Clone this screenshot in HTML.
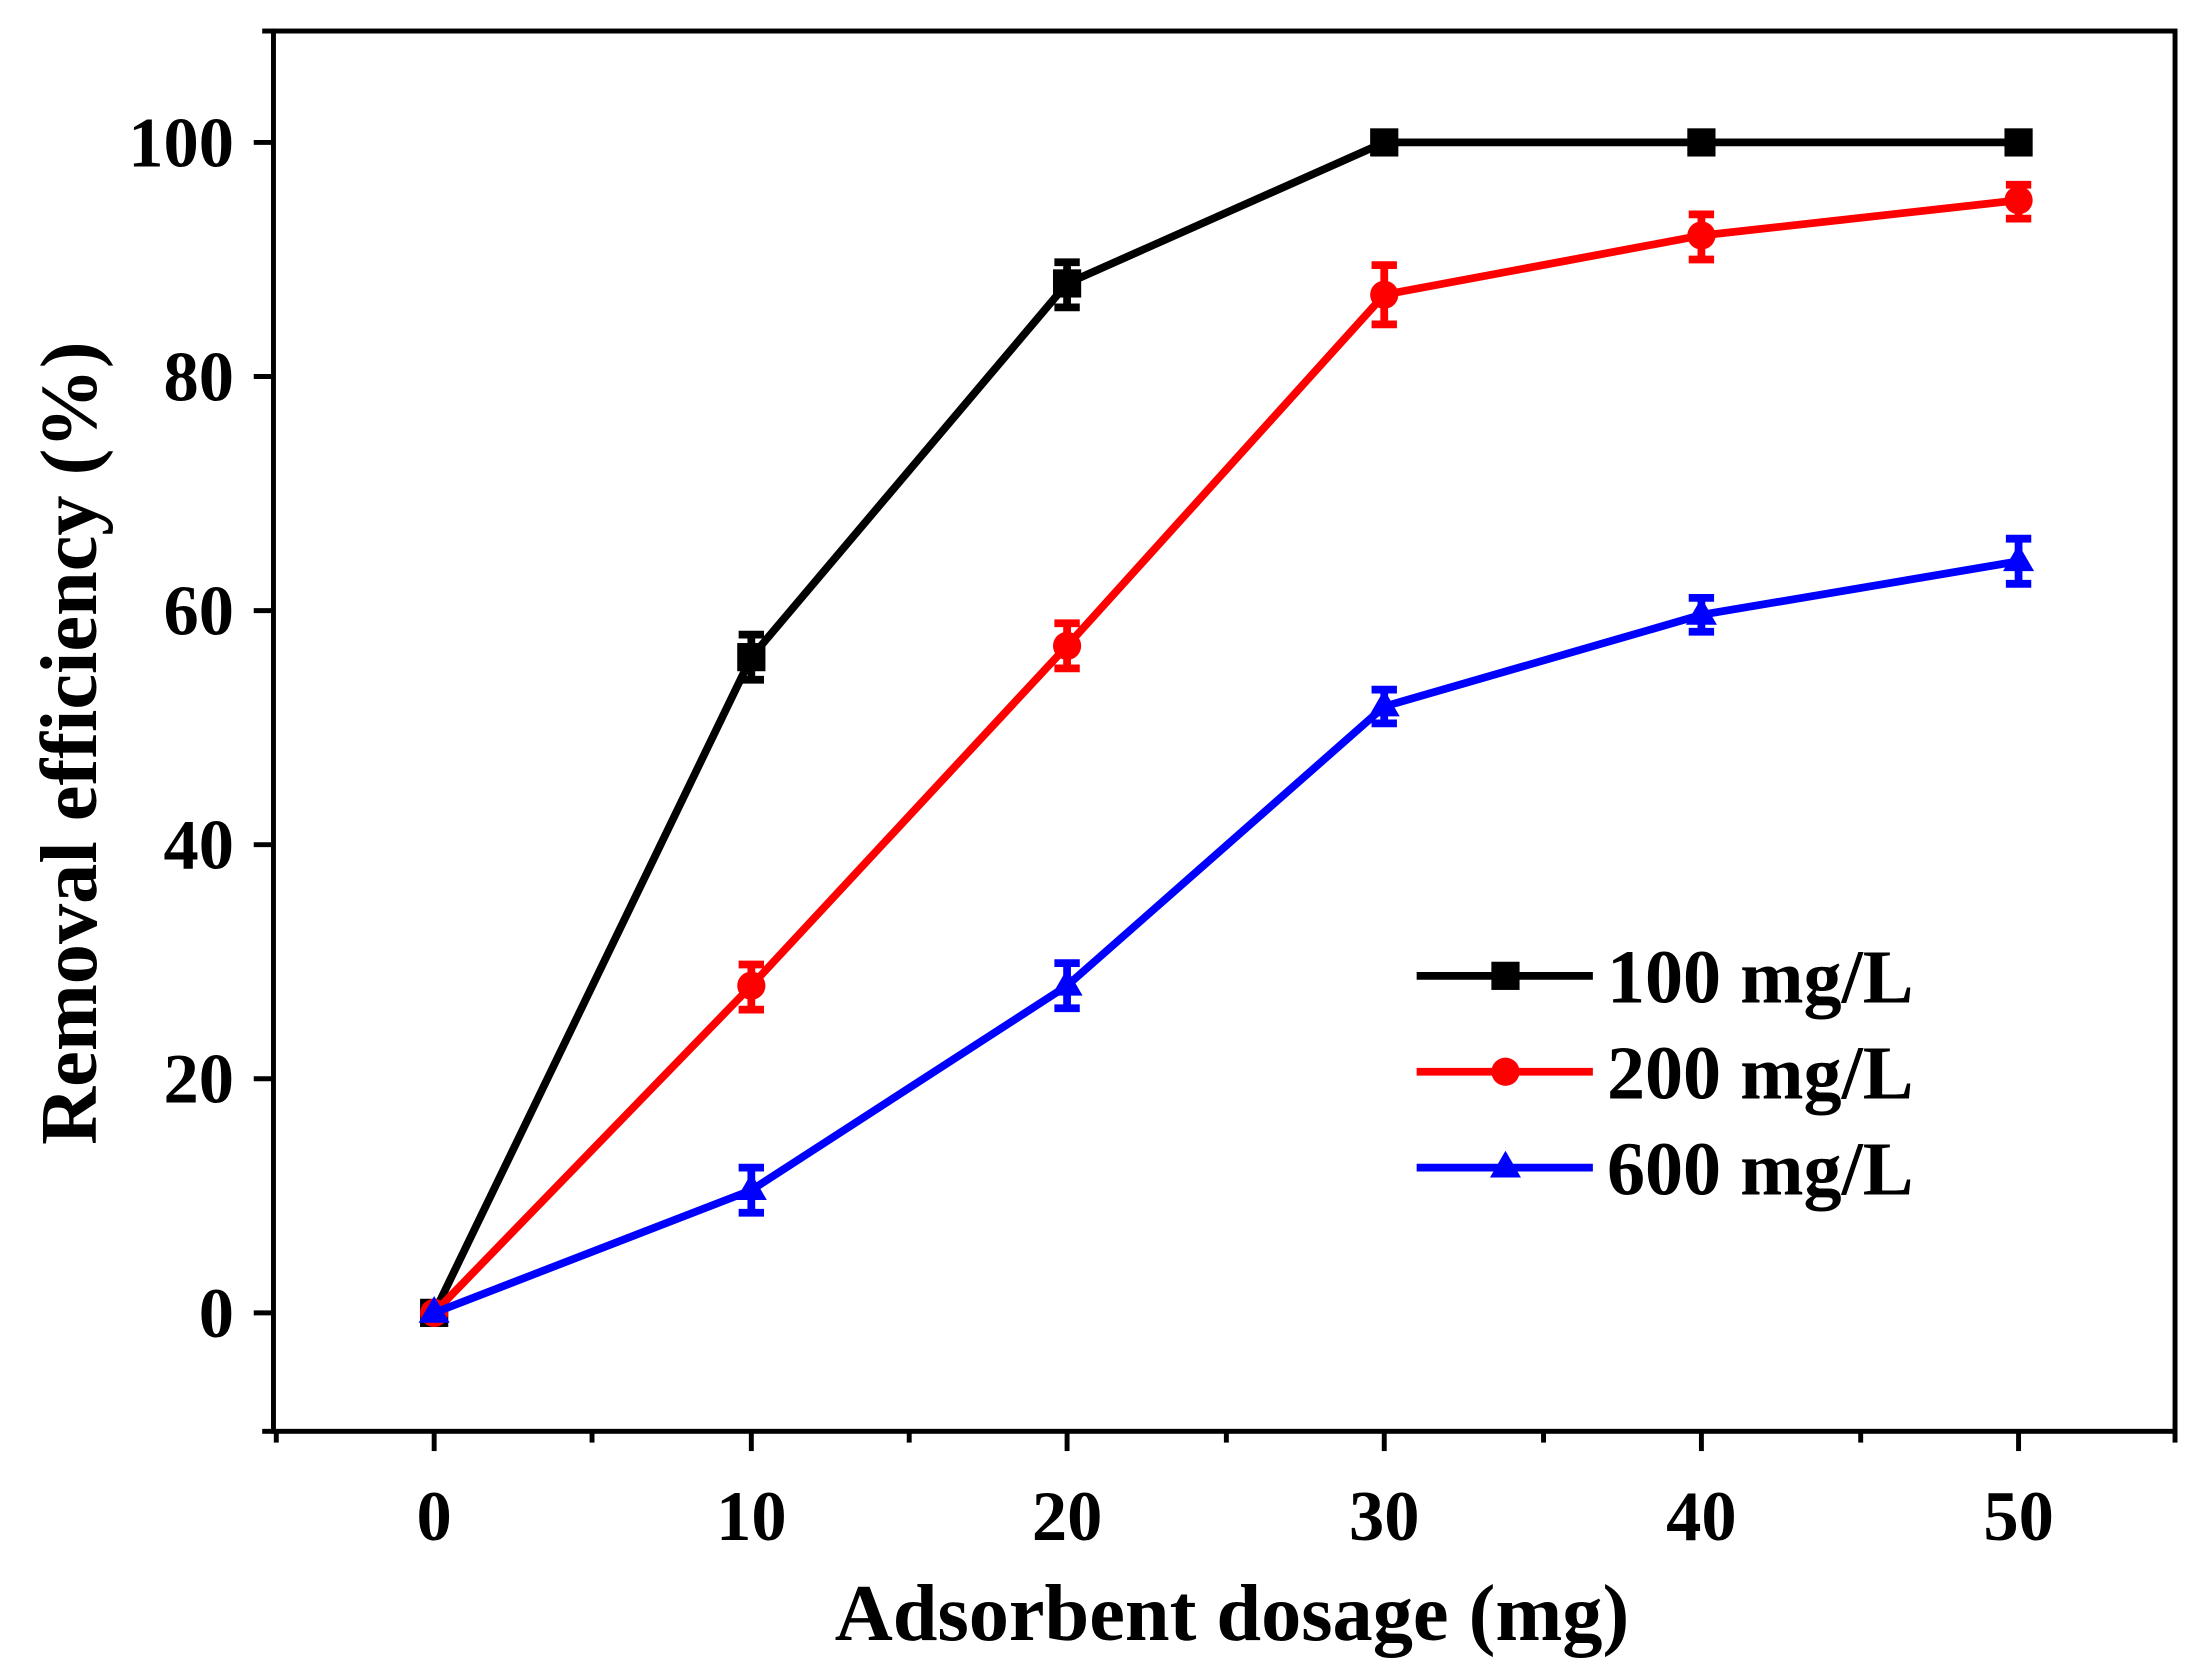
<!DOCTYPE html>
<html><head><style>html,body{margin:0;padding:0;background:#fff}svg{display:block}</style></head>
<body>
<svg width="2199" height="1664" viewBox="0 0 1560 1180" preserveAspectRatio="none" xmlns="http://www.w3.org/2000/svg" font-family="Liberation Serif, serif" font-weight="bold">
<rect x="0" y="0" width="1560" height="1180" fill="#fff"/>
<rect x="194" y="22" width="1349" height="993" fill="none" stroke="#000" stroke-width="3.5"/>
<g stroke="#000" stroke-width="3.5">
<line x1="180" y1="931" x2="194" y2="931"/><line x1="180" y1="765" x2="194" y2="765"/><line x1="180" y1="599" x2="194" y2="599"/><line x1="180" y1="433" x2="194" y2="433"/><line x1="180" y1="267" x2="194" y2="267"/><line x1="180" y1="101" x2="194" y2="101"/>
<line x1="186" y1="1015" x2="194" y2="1015"/><line x1="186" y1="22" x2="194" y2="22"/>
<line x1="308" y1="1015" x2="308" y2="1029"/><line x1="533" y1="1015" x2="533" y2="1029"/><line x1="757" y1="1015" x2="757" y2="1029"/><line x1="982" y1="1015" x2="982" y2="1029"/><line x1="1207" y1="1015" x2="1207" y2="1029"/><line x1="1432" y1="1015" x2="1432" y2="1029"/>
<line x1="196" y1="1015" x2="196" y2="1023"/><line x1="420" y1="1015" x2="420" y2="1023"/><line x1="645" y1="1015" x2="645" y2="1023"/><line x1="870" y1="1015" x2="870" y2="1023"/><line x1="1095" y1="1015" x2="1095" y2="1023"/><line x1="1320" y1="1015" x2="1320" y2="1023"/><line x1="1543" y1="1015" x2="1543" y2="1023"/>
</g>
<g font-size="50" text-anchor="end">
<text x="166" y="948">0</text><text x="166" y="782">20</text><text x="166" y="616">40</text><text x="166" y="450">60</text><text x="166" y="284">80</text><text x="166" y="118">100</text>
</g>
<g font-size="50" text-anchor="middle">
<text x="308" y="1092">0</text><text x="533" y="1092">10</text><text x="757" y="1092">20</text><text x="982" y="1092">30</text><text x="1207" y="1092">40</text><text x="1432" y="1092">50</text>
</g>
<text x="874" y="1163" font-size="57" text-anchor="middle">Adsorbent dosage (mg)</text>
<text transform="translate(68,527) rotate(-90)" font-size="57" text-anchor="middle">Removal efficiency (%)</text>
<!-- black -->
<g stroke="#000" stroke-width="5.5" fill="none">
<polyline points="308,931 533,466 757,201 982,101 1207,101 1432,101"/>
<path d="M533,450v32M524,450h18M524,482h18 M757,186v32M748,186h18M748,218h18"/>
</g>
<g fill="#000"><rect x="523" y="456" width="20" height="20"/><rect x="747" y="191" width="20" height="20"/><rect x="972" y="91" width="20" height="20"/><rect x="1197" y="91" width="20" height="20"/><rect x="1422" y="91" width="20" height="20"/><rect x="298" y="921" width="20" height="20"/></g>
<!-- red -->
<g stroke="#f00" stroke-width="5.5" fill="none">
<polyline points="308,931 533,699 757,458 982,209 1207,167 1432,142"/>
<path d="M533,684v32M524,684h18M524,716h18 M757,442v32M748,442h18M748,474h18 M982,188v42M973,188h18M973,230h18 M1207,152v32M1198,152h18M1198,184h18 M1432,131v24M1423,131h18M1423,155h18"/>
</g>
<g fill="#f00"><circle cx="533" cy="699" r="10"/><circle cx="757" cy="458" r="10"/><circle cx="982" cy="209" r="10"/><circle cx="1207" cy="167" r="10"/><circle cx="1432" cy="142" r="10"/><circle cx="308" cy="931" r="10"/></g>
<!-- blue -->
<g stroke="#00f" stroke-width="5.5" fill="none">
<polyline points="308,931 533,844 757,699 982,501 1207,436 1432,398"/>
<path d="M533,828v32M524,828h18M524,860h18 M757,683v32M748,683h18M748,715h18 M982,489v24M973,489h18M973,513h18 M1207,424v24M1198,424h18M1198,448h18 M1432,382v32M1423,382h18M1423,414h18"/>
</g>
<g fill="#00f"><path d="M533,832l11,19h-22z"/><path d="M757,687l11,19h-22z"/><path d="M982,489l11,19h-22z"/><path d="M1207,424l11,19h-22z"/><path d="M1432,386l11,19h-22z"/><path d="M308,919l11,19h-22z"/></g>
<!-- legend -->
<line x1="1005" y1="692" x2="1130" y2="692" stroke="#000" stroke-width="5.5"/><rect x="1058" y="682" width="20" height="20" fill="#000"/>
<line x1="1005" y1="760" x2="1130" y2="760" stroke="#f00" stroke-width="5.5"/><circle cx="1068" cy="760" r="10" fill="#f00"/>
<line x1="1005" y1="828" x2="1130" y2="828" stroke="#00f" stroke-width="5.5"/><path d="M1068,816l11,19h-22z" fill="#00f"/>
<g font-size="54"><text x="1140" y="711">100 mg/L</text><text x="1140" y="779">200 mg/L</text><text x="1140" y="847">600 mg/L</text></g>
</svg>
</body></html>
